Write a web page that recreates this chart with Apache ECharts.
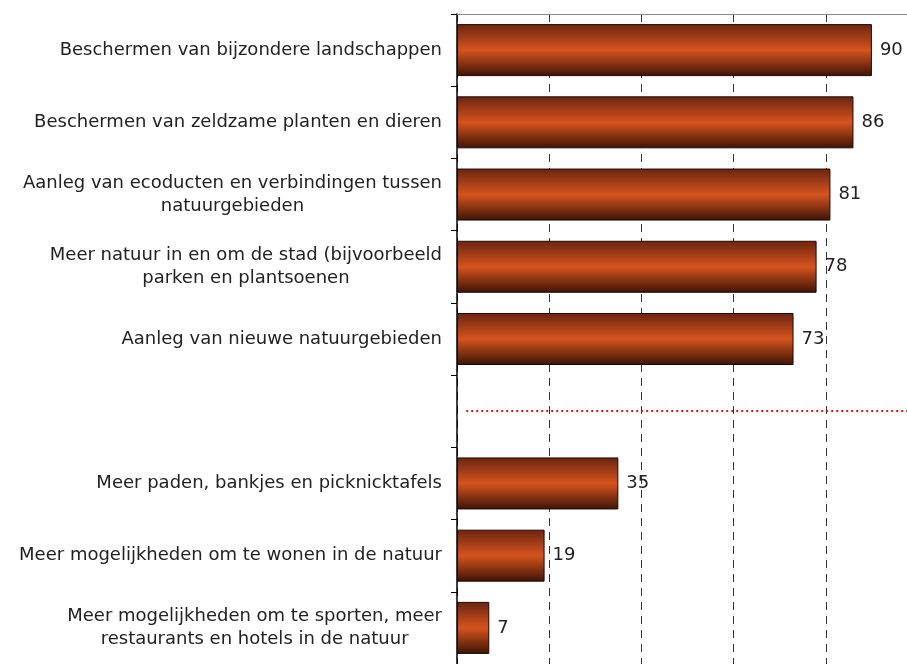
<!DOCTYPE html>
<html>
<head>
<meta charset="utf-8">
<script src="https://cdn.jsdelivr.net/npm/echarts@6/dist/echarts.min.js"></script>
<style>
  html, body { margin: 0; padding: 0; background: #fff; }
  #chart { width: 907px; height: 664px; }
</style>
</head>
<body>
<div id="chart"></div>
<script>
// categories top to bottom; the empty one is the gap with the red separator
const categories = [
  'Beschermen van bijzondere landschappen',
  'Beschermen van zeldzame planten en dieren',
  'Aanleg van ecoducten en verbindingen tussen\nnatuurgebieden',
  'Meer natuur in en om de stad (bijvoorbeeld\nparken en plantsoenen',
  'Aanleg van nieuwe natuurgebieden',
  ' ',
  'Meer paden, bankjes en picknicktafels',
  'Meer mogelijkheden om te wonen in de natuur',
  'Meer mogelijkheden om te sporten, meer\nrestaurants en hotels in de natuur'
]
const values = [90, 86, 81, 78, 73, null, 35, 19, 7]
const separatorIndex = 5

const chart = echarts.init(document.getElementById('chart'))

const font = 'DejaVu Sans'
const fs = 18

const option = {
  animation: false,
  grid: {
    left: 457,
    top: 14,
    width: 461,
    height: 650,
    outerBoundsMode: 'none'
  },
  xAxis: {
    type: 'value',
    position: 'top',
    min: 0,
    max: 100,
    interval: 20,
    axisLine: { show: true, lineStyle: { color: '#8a8a8a', width: 1 } },
    axisTick: { show: false },
    axisLabel: { show: false },
    splitLine: {
      show: true,
      lineStyle: { color: '#333', type: [8, 6], width: 1 }
    }
  },
  yAxis: {
    type: 'category',
    inverse: true,
    data: categories,
    axisLine: { show: true, lineStyle: { color: '#000', width: 1.5 } },
    axisTick: { show: true, length: 6, lineStyle: { color: '#000' } },
    axisLabel: {
      margin: 15,
      fontFamily: font,
      fontSize: fs,
      color: '#222',
      lineHeight: 23,
      formatter: function (v) {
        return v.split('\n').map(l => '{c|' + l + '}').join('\n')
      },
      rich: {
        c: { align: 'center', fontFamily: font, fontSize: fs, color: '#222', lineHeight: 23 }
      }
    }
  },
  series: [
    {
      type: 'bar',
      data: values,
      barCategoryGap: '28%',
      itemStyle: {
        borderColor: '#1e0802',
        borderWidth: 1,
        color: new echarts.graphic.LinearGradient(0, 0, 0, 1, [
          { offset: 0, color: '#6a2410' },
          { offset: 0.5, color: '#d6531e' },
          { offset: 1, color: '#3c1306' }
        ])
      },
      label: {
        show: true,
        position: 'right',
        distance: 8,
        fontFamily: font,
        fontSize: fs,
        color: '#222'
      },
      markLine: {
        silent: true,
        symbol: 'none',
        label: { show: false },
        lineStyle: { color: '#ee1111', type: [2, 3], width: 2 },
        data: [
          [{ coord: [2, separatorIndex] }, { coord: [100, separatorIndex] }]
        ]
      }
    }
  ]
}

chart.setOption(option)
</script>
</body>
</html>
